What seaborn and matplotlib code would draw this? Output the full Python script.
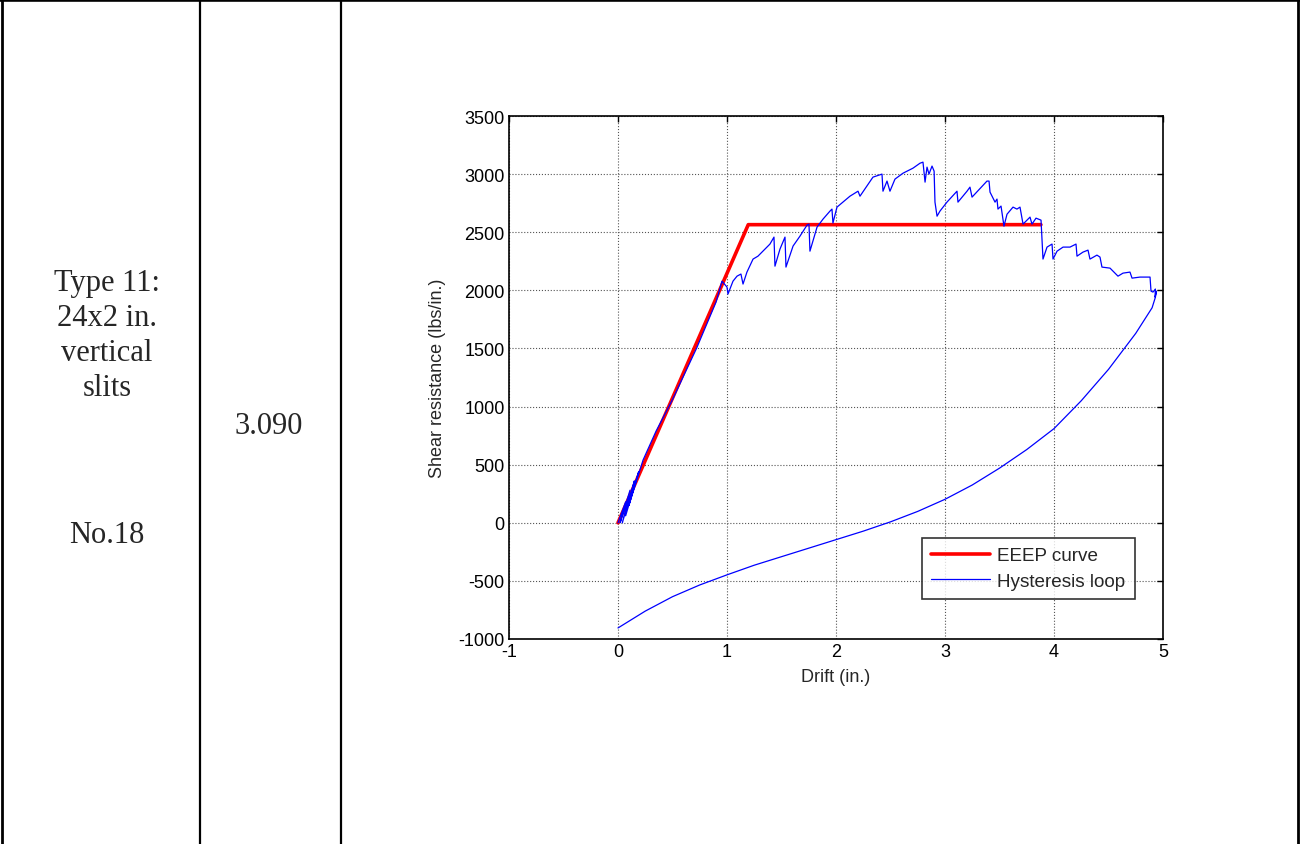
import matplotlib
matplotlib.use("Agg")
import matplotlib.pyplot as plt
from matplotlib.lines import Line2D
import pandas as pd
import seaborn as sns

# ---- data -------------------------------------------------------------
# Equivalent energy elastic-plastic (EEEP) curve
eeep_drift = [0.0, 1.195, 3.88]
eeep_shear = [0, 2565, 2565]

# Measured hysteresis loop: small initial cycles, monotonic envelope, unloading branch
loop_drift = [
    0.00, 0.07, 0.02, 0.11, 0.04, 0.15, 0.07, 0.19, 0.10, 0.23, 0.35, 0.50, 0.72, 0.90,
    0.954, 1.000, 1.009, 1.055, 1.092, 1.128, 1.147, 1.183, 1.239, 1.284, 1.330, 1.394,
    1.431, 1.440, 1.486, 1.532, 1.541, 1.606, 1.670, 1.734, 1.752, 1.761, 1.826, 1.881,
    1.945, 1.963, 1.972, 2.009, 2.128, 2.202, 2.220, 2.339, 2.422, 2.431, 2.468, 2.495,
    2.541, 2.615, 2.706, 2.771, 2.798, 2.817, 2.835, 2.853, 2.881, 2.900, 2.908, 2.927,
    2.954, 3.018, 3.110, 3.119, 3.202, 3.229, 3.248, 3.385, 3.404, 3.413, 3.459, 3.477,
    3.486, 3.514, 3.541, 3.569, 3.624, 3.660, 3.688, 3.716, 3.780, 3.798, 3.835, 3.881,
    3.890, 3.899, 3.936, 3.982, 3.991, 4.028, 4.083, 4.147, 4.202, 4.211, 4.266, 4.312,
    4.330, 4.394, 4.422, 4.440, 4.514, 4.540, 4.587, 4.633, 4.697, 4.716, 4.789, 4.881,
    4.890, 4.908, 4.930, 4.927, 4.940, 4.930,
    4.90, 4.75, 4.50, 4.25, 4.00, 3.75, 3.50, 3.25, 3.00, 2.75, 2.50, 2.25, 2.00, 1.75,
    1.50, 1.25, 1.00, 0.75, 0.50, 0.25, 0.00,
]
loop_shear = [
    0, 180, 0, 280, 0, 360, 60, 440, 150, 540, 790, 1060, 1500, 1900,
    2079, 2028, 1968, 2079, 2122, 2140, 2054, 2157, 2269, 2294, 2337, 2398,
    2458, 2208, 2355, 2458, 2200, 2381, 2467, 2561, 2570, 2337, 2544, 2613,
    2682, 2699, 2579, 2716, 2810, 2853, 2810, 2974, 3000, 2853, 2940, 2853,
    2957, 3008, 3051, 3094, 3103, 2931, 3060, 3000, 3069, 3026, 2759, 2638,
    2682, 2759, 2853, 2759, 2853, 2888, 2802, 2940, 2940, 2845, 2759, 2785,
    2699, 2725, 2552, 2655, 2716, 2699, 2716, 2570, 2630, 2570, 2621, 2604,
    2441, 2269, 2372, 2398, 2269, 2337, 2372, 2372, 2398, 2294, 2329, 2346,
    2269, 2303, 2286, 2200, 2191, 2166, 2122, 2148, 2157, 2105, 2114, 2114,
    1993, 1985, 2011, 1942, 1993, 1940,
    1850, 1630, 1320, 1050, 810, 630, 470, 325, 202, 98, 8, -72, -145, -218,
    -290, -365, -448, -535, -636, -760, -905,
]

x_ticks = [-1, 0, 1, 2, 3, 4, 5]
y_ticks = [-1000, -500, 0, 500, 1000, 1500, 2000, 2500, 3000, 3500]

row_label_lines = ["Type 11:", "24x2 in.", "vertical", "slits"]
specimen_label = "No.18"
cell_value = "3.090"

# ---- figure -----------------------------------------------------------
sns.set_style("white")
plt.rcParams["font.family"] = ["Liberation Sans", "DejaVu Sans"]

fig = plt.figure(figsize=(13, 8.45), dpi=100)

# table frame
frame_kw = dict(color="black", transform=fig.transFigure)
fig.add_artist(Line2D([0, 1], [0.9985, 0.9985], lw=2.6, **frame_kw))
for xp, lw in [(2 / 1300, 2.0), (199.5 / 1300, 1.6), (340.5 / 1300, 1.6), (1297.5 / 1300, 2.0)]:
    fig.add_artist(Line2D([xp, xp], [0, 1], lw=lw, **frame_kw))

serif = ["Liberation Serif", "DejaVu Serif"]
for i, line in enumerate(row_label_lines):
    fig.text(107 / 1300, 1 - (284 + 35 * i) / 845, line, ha="center", va="center",
             fontsize=22, family=serif)
fig.text(107 / 1300, 1 - 536 / 845, specimen_label, ha="center", va="center",
         fontsize=22, family=serif)
fig.text(269 / 1300, 1 - 427 / 845, cell_value, ha="center", va="center",
         fontsize=22, family=serif)

# chart axes
ax = fig.add_axes([509 / 1300, 1 - 640 / 845, 654 / 1300, 523 / 845])

eeep = pd.DataFrame({"drift": eeep_drift, "shear": eeep_shear})
loop = pd.DataFrame({"drift": loop_drift, "shear": loop_shear})

sns.lineplot(data=eeep, x="drift", y="shear", sort=False, estimator=None, ax=ax,
             color="#ff0000", lw=2.6, label="EEEP curve")
sns.lineplot(data=loop, x="drift", y="shear", sort=False, estimator=None, ax=ax,
             color="#0000ff", lw=0.9, label="Hysteresis loop")

ax.set_xlim(-1, 5)
ax.set_ylim(-1000, 3500)
ax.set_xticks(x_ticks)
ax.set_yticks(y_ticks)
ax.set_xticklabels([str(t) for t in x_ticks])
ax.set_yticklabels([str(t) for t in y_ticks])
ax.grid(True, color="#555555", linestyle=":", linewidth=0.8)
ax.tick_params(direction="in", top=True, right=True, length=4, width=1,
               labelsize=13, pad=3, colors="black")
for sp in ax.spines.values():
    sp.set_color("black")
    sp.set_linewidth(1.2)

ax.set_xlabel("Drift (in.)", fontsize=13, labelpad=6)
ax.set_ylabel("Shear resistance (lbs/in.)", fontsize=13, labelpad=9)

leg = ax.legend(loc="lower right", bbox_to_anchor=(0.957, 0.0765), fontsize=13.6,
                frameon=True, fancybox=False, shadow=False, handlelength=3.1,
                borderpad=0.5, labelspacing=0.42, handletextpad=0.4, borderaxespad=0)
leg.get_frame().set_edgecolor("black")
leg.get_frame().set_linewidth(1.2)

fig.savefig("out.png", dpi=100)
